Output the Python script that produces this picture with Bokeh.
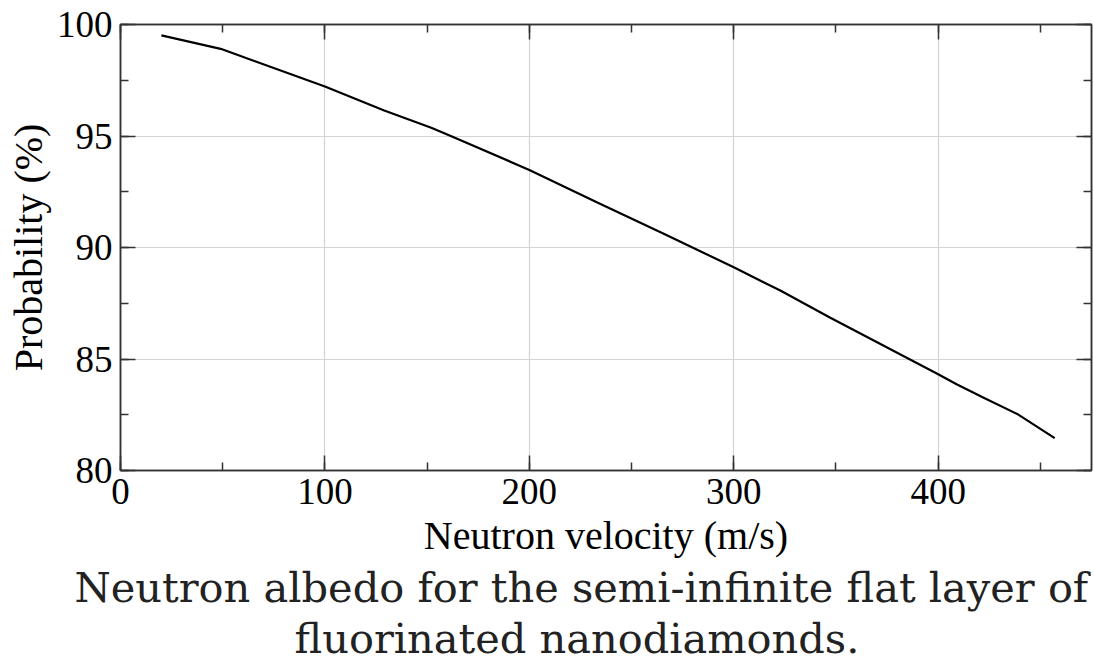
from bokeh.plotting import figure
from bokeh.models import LinearAxis, Title, Range1d, SingleIntervalTicker, CustomJSTickFormatter
from bokeh.embed import file_html
from bokeh.resources import INLINE

velocity = [20, 49, 100, 129, 152, 161, 200, 233, 266, 300, 323, 347, 386, 400, 409, 422, 439, 457]
probability = [99.51, 98.91, 97.22, 96.14, 95.37, 95.02, 93.48, 92.03, 90.61, 89.11, 88.06, 86.86,
               84.99, 84.32, 83.87, 83.27, 82.52, 81.45]

x_label = "Neutron velocity (m/s)"
y_label = "Probability (%)"
caption = ["Neutron albedo for the semi-infinite flat layer of", "fluorinated nanodiamonds."]
caption_offsets = [-46, 174]

SERIF = "Liberation Serif"
CAPTION_FONT = "DejaVu Serif"

p = figure(width=1094, height=666, output_backend="svg", toolbar_location=None,
           x_range=Range1d(0, 475), y_range=Range1d(80, 100),
           frame_width=971, frame_height=446,
           min_border_left=120, min_border_top=24, min_border_right=3, min_border_bottom=0)
p.outline_line_color = "#333333"
p.outline_line_width = 1.5
p.background_fill_color = "white"
p.border_fill_color = "white"

p.line(velocity, probability, line_color="black", line_width=2.2)

p.xaxis.ticker = SingleIntervalTicker(interval=100, num_minor_ticks=2)
p.yaxis.ticker = SingleIntervalTicker(interval=5, num_minor_ticks=2)
p.xgrid.ticker = p.xaxis.ticker
p.ygrid.ticker = p.yaxis.ticker
p.grid.grid_line_color = "#d4d4d4"
p.grid.grid_line_width = 1.2

for ax in (p.xaxis[0], p.yaxis[0]):
    ax.major_tick_in = 15
    ax.major_tick_out = 0
    ax.minor_tick_in = 8
    ax.minor_tick_out = 0
    ax.axis_line_color = "#333333"
    ax.axis_line_width = 1.5
    ax.major_tick_line_color = "#333333"
    ax.minor_tick_line_color = "#333333"
    ax.major_tick_line_width = 1.5
    ax.minor_tick_line_width = 1.5
    ax.major_label_text_font = SERIF
    ax.major_label_text_font_size = "37px"
    ax.major_label_text_color = "black"
    ax.axis_label_text_font = SERIF
    ax.axis_label_text_font_size = "40px"
    ax.axis_label_text_font_style = "normal"
    ax.axis_label_text_color = "black"

p.xaxis.axis_label = x_label
p.yaxis.axis_label = y_label
p.xaxis.major_label_standoff = 8
p.xaxis.axis_label_standoff = 6
p.yaxis.major_label_standoff = 8
p.yaxis.axis_label_standoff = 3

for loc, ticker in (("above", p.xaxis.ticker), ("right", p.yaxis.ticker)):
    ax = LinearAxis(ticker=ticker, formatter=CustomJSTickFormatter(code="return ''"))
    ax.major_tick_in = 15
    ax.major_tick_out = 0
    ax.minor_tick_in = 8
    ax.minor_tick_out = 0
    ax.axis_line_color = "#333333"
    ax.axis_line_width = 1.5
    ax.major_tick_line_color = "#333333"
    ax.minor_tick_line_color = "#333333"
    ax.major_tick_line_width = 1.5
    ax.minor_tick_line_width = 1.5
    ax.major_label_standoff = 0
    p.add_layout(ax, loc)

for line, off in zip(caption, caption_offsets):
    t = Title(text=line, align="left", text_font=CAPTION_FONT, text_font_size="41.5px",
              text_font_style="normal", text_color="#222222", standoff=0, offset=off)
    p.add_layout(t, "below")

open("out.html", "w").write(file_html(p, INLINE))
